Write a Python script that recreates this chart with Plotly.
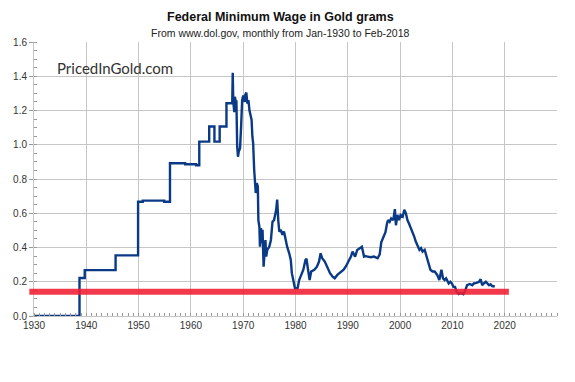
import plotly.graph_objects as go

# ---- data ----
years = [
    1930.0, 1938.7, 1938.7, 1939.7, 1939.7, 1945.6, 1945.6, 1949.9, 1949.9, 1950.8,
    1950.8, 1954.9, 1954.9, 1956.0, 1956.0, 1958.9, 1958.9, 1961.0, 1961.0, 1961.6,
    1961.6, 1963.5, 1963.5, 1964.5, 1964.5, 1965.5, 1965.5, 1966.8, 1966.8, 1967.9,
    1968.0, 1968.1, 1968.3, 1968.4, 1968.6, 1968.7, 1968.85, 1969.0, 1969.15, 1969.4,
    1969.6, 1969.8, 1970.0, 1970.2, 1970.3, 1970.4, 1970.6, 1970.8, 1971.0, 1971.2,
    1971.4, 1971.6, 1971.75, 1971.9, 1972.1, 1972.3, 1972.4, 1972.6, 1972.8, 1972.9,
    1973.1, 1973.2, 1973.4, 1973.6, 1973.7, 1973.9, 1974.1, 1974.25, 1974.4, 1974.6,
    1975.0, 1975.3, 1975.6, 1975.9, 1976.3, 1976.5, 1976.7, 1976.9, 1977.2, 1977.5,
    1977.8, 1978.1, 1978.4, 1978.8, 1979.1, 1979.3, 1979.6, 1979.9, 1980.4, 1980.7,
    1981.1, 1981.5, 1981.9, 1982.1, 1982.4, 1982.7, 1983.0, 1983.6, 1984.1, 1984.5,
    1984.8, 1985.1, 1985.6, 1986.1, 1986.6, 1987.1, 1987.5, 1988.0, 1988.7, 1989.2,
    1989.6, 1990.1, 1990.6, 1990.9, 1991.4, 1991.8, 1992.2, 1992.7, 1993.1, 1993.3,
    1993.8, 1994.4, 1995.0, 1995.7, 1996.1, 1996.4, 1996.8, 1997.2, 1997.5, 1997.7,
    1998.0, 1998.3, 1998.7, 1999.0, 1999.2, 1999.5, 1999.8, 2000.1, 2000.5, 2000.8,
    2001.1, 2001.4, 2001.7, 2002.1, 2002.4, 2002.7, 2003.0, 2003.3, 2003.7, 2004.0,
    2004.3, 2004.7, 2005.1, 2005.4, 2005.8, 2006.2, 2006.6, 2007.1, 2007.5, 2007.9,
    2008.2, 2008.5, 2008.8, 2009.3, 2009.6, 2009.9, 2010.2, 2010.5, 2010.8, 2011.2,
    2011.6, 2012.1, 2012.5, 2012.8, 2013.3, 2013.8, 2014.1, 2014.6, 2015.1, 2015.4,
    2015.7, 2016.0, 2016.4, 2016.7, 2017.0, 2017.3, 2017.6, 2018.1,
]
wage_gold_grams = [
    0.0, 0.0, 0.222, 0.222, 0.268, 0.268, 0.354, 0.354, 0.667, 0.667,
    0.674, 0.674, 0.667, 0.667, 0.892, 0.892, 0.886, 0.886, 0.880, 0.880,
    1.018, 1.018, 1.107, 1.107, 1.018, 1.018, 1.107, 1.107, 1.242, 1.242,
    1.42, 1.25, 1.19, 1.28, 1.25, 1.26, 0.99, 0.93, 0.96, 0.98,
    1.107, 1.26, 1.287, 1.27, 1.25, 1.29, 1.305, 1.24, 1.26, 1.20,
    1.175, 1.146, 1.05, 1.01, 0.854, 0.776, 0.718, 0.776, 0.756, 0.56,
    0.52, 0.405, 0.513, 0.425, 0.503, 0.288, 0.405, 0.444, 0.347, 0.386,
    0.405, 0.444, 0.55, 0.56, 0.62, 0.68, 0.56, 0.493, 0.503, 0.474,
    0.493, 0.444, 0.405, 0.366, 0.327, 0.25, 0.20, 0.162, 0.162, 0.21,
    0.24, 0.27, 0.327, 0.335, 0.27, 0.21, 0.26, 0.27, 0.288, 0.318,
    0.366, 0.337, 0.318, 0.288, 0.25, 0.23, 0.22, 0.24, 0.26, 0.27,
    0.288, 0.318, 0.347, 0.376, 0.347, 0.386, 0.396, 0.405, 0.347, 0.35,
    0.347, 0.343, 0.347, 0.337, 0.36, 0.43, 0.46, 0.49, 0.54, 0.56,
    0.55, 0.57, 0.56, 0.624, 0.53, 0.59, 0.56, 0.59, 0.58, 0.62,
    0.60, 0.56, 0.54, 0.513, 0.483, 0.464, 0.435, 0.415, 0.386, 0.396,
    0.376, 0.386, 0.347, 0.308, 0.27, 0.26, 0.26, 0.24, 0.21, 0.27,
    0.22, 0.21, 0.22, 0.19, 0.20, 0.19, 0.17, 0.17, 0.142, 0.128,
    0.135, 0.128, 0.152, 0.18, 0.187, 0.18, 0.19, 0.193, 0.20, 0.215,
    0.18, 0.19, 0.20, 0.19, 0.18, 0.185, 0.175, 0.172,
]

x_ticks = [1930, 1940, 1950, 1960, 1970, 1980, 1990, 2000, 2010, 2020, 2030]
x_tick_labels = ["1930", "1940", "1950", "1960", "1970", "1980", "1990", "2000", "2010", "2020", ""]
y_ticks = [0.0, 0.2, 0.4, 0.6, 0.8, 1.0, 1.2, 1.4, 1.6]
x_range = [1930, 2030]
y_range = [0, 1.6]

red_line_level = 0.142
red_line_years = [1929.1, 2020.8]

title = "Federal Minimum Wage in Gold grams"
subtitle = "From www.dol.gov, monthly from Jan-1930 to Feb-2018"
watermark = "PricedInGold.com"

# ---- figure ----
fig = go.Figure()
fig.add_trace(go.Scatter(
    x=years, y=wage_gold_grams, mode="lines",
    line=dict(color="#0a3a86", width=2.4),
    showlegend=False, hoverinfo="x+y",
))

def to_paper(v):
    return (v - x_range[0]) / (x_range[1] - x_range[0])

fig.add_shape(
    type="line", xref="paper", yref="y",
    x0=to_paper(red_line_years[0]), x1=to_paper(red_line_years[1]),
    y0=red_line_level, y1=red_line_level,
    line=dict(color="rgba(240,30,50,0.88)", width=6),
)

grid = "#c6c6c6"
fig.update_xaxes(
    range=x_range, tickvals=x_ticks, ticktext=x_tick_labels,
    showgrid=True, gridcolor=grid, gridwidth=1,
    showline=True, linecolor=grid, linewidth=1,
    ticks="", zeroline=False, automargin=False,
    tickfont=dict(family="Liberation Sans, Arial, sans-serif", size=10, color="#333"),
    minor=dict(dtick=1, ticks="inside", ticklen=3, tickcolor="#999", showgrid=False),
)
fig.update_yaxes(
    range=y_range, tickvals=y_ticks, tickformat=".1f",
    showgrid=True, gridcolor=grid, gridwidth=1,
    showline=True, linecolor=grid, linewidth=1,
    ticks="outside", ticklen=4, tickcolor="#999", zeroline=False, automargin=False,
    tickfont=dict(family="Liberation Sans, Arial, sans-serif", size=10, color="#333"),
    minor=dict(dtick=0.05, ticks="inside", ticklen=3, tickcolor="#999", showgrid=False),
)

fig.add_annotation(
    text="<b>" + title + "</b>", xref="paper", yref="paper",
    x=0.471, y=1.0, yshift=25, showarrow=False, xanchor="center", yanchor="middle",
    font=dict(family="Liberation Sans, Arial, sans-serif", size=12.5, color="#111"),
)
fig.add_annotation(
    text=subtitle, xref="paper", yref="paper",
    x=0.471, y=1.0, yshift=9, showarrow=False, xanchor="center", yanchor="middle",
    font=dict(family="Liberation Sans, Arial, sans-serif", size=10.5, color="#222"),
)
fig.add_annotation(
    text=watermark, xref="x", yref="y", x=1934.0, y=1.45,
    showarrow=False, xanchor="left", yanchor="middle",
    font=dict(family="Lato, sans-serif", size=15, color="#333"),
)

fig.update_layout(
    width=575, height=382,
    margin=dict(l=26, r=26, t=34, b=74),
    paper_bgcolor="white", plot_bgcolor="white",
    showlegend=False,
)

fig.write_html("out.html")
